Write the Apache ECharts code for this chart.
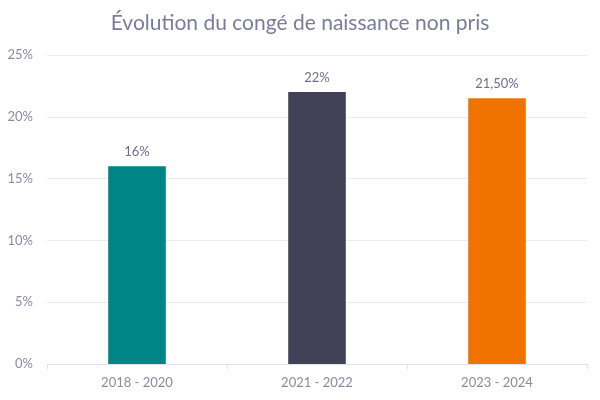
<!DOCTYPE html>
<html>
<head>
<meta charset="utf-8">
<script src="https://cdn.jsdelivr.net/npm/echarts@6/dist/echarts.min.js"></script>
<style>html,body{margin:0;padding:0;background:#fff}#c{width:600px;height:400px}</style>
</head>
<body>
<div id="c"></div>
<script>
var categories = ['2018 - 2020', '2021 - 2022', '2023 - 2024'];
var values = [16, 22, 21.5];
var valueLabels = ['16%', '22%', '21,50%'];
var barColors = ['#008486', '#414157', '#f07300'];

var chart = echarts.init(document.getElementById('c'));
chart.setOption({
  animation: false,
  title: {
    text: 'Évolution du congé de naissance non pris',
    left: 'center',
    top: 8,
    textStyle: { fontFamily: 'Lato', fontSize: 21, fontWeight: 'normal', color: '#7b7b9b' }
  },
  grid: { left: 47, right: 13, top: 55, bottom: 36 },
  xAxis: {
    type: 'category',
    data: categories,
    axisLine: { lineStyle: { color: '#e2e2ea' } },
    axisTick: { show: true, alignWithLabel: false, lineStyle: { color: '#e2e2ea' } },
    axisLabel: { fontFamily: 'Lato', fontSize: 13, color: '#8a8aa2', margin: 12 }
  },
  yAxis: {
    type: 'value',
    min: 0, max: 25, interval: 5,
    axisLine: { show: false },
    axisTick: { show: false },
    splitLine: { lineStyle: { color: '#ebebf0' } },
    axisLabel: { fontFamily: 'Lato', fontSize: 13, color: '#8a8aa2', formatter: '{value}%', margin: 14 }
  },
  series: [{
    type: 'bar',
    barWidth: '32%',
    data: values.map(function (v, i) {
      return { value: v, itemStyle: { color: barColors[i] } };
    }),
    label: {
      show: true,
      position: 'top',
      distance: 8,
      fontFamily: 'Lato',
      fontSize: 13,
      color: '#6e6e8c',
      formatter: function (p) { return valueLabels[p.dataIndex]; }
    }
  }]
});
</script>
</body>
</html>
